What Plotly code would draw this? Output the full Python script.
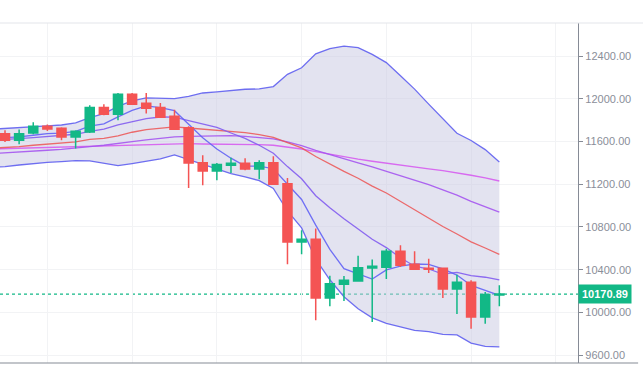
import plotly.graph_objects as go

# ---- candle data (index positions) ----
idx = list(range(36))
opens = [11675, 11613, 11682, 11744, 11725, 11644, 11691, 11919, 11856, 12044,
         11960, 11919, 11838, 11731, 11403, 11325, 11378, 11397, 11344, 11403,
         11206, 10660, 10685, 10135, 10263, 10294, 10416, 10422, 10572, 10450,
         10413, 10413, 10219, 10281, 9956, 10163]
highs = [11706, 11713, 11781, 11760, 11735, 11706, 11941, 11950, 12056, 12056,
         12056, 11963, 11900, 11744, 11472, 11400, 11450, 11444, 11425, 11463,
         11260, 10769, 10785, 10344, 10341, 10531, 10494, 10597, 10628, 10572,
         10503, 10413, 10353, 10300, 10191, 10253]
lows = [11597, 11575, 11669, 11700, 11613, 11535, 11681, 11847, 11800, 11944,
        11863, 11822, 11716, 11166, 11191, 11238, 11306, 11331, 11247, 11200,
        10450, 10544, 9925, 10056, 10106, 10294, 9910, 10313, 10425, 10397,
        10369, 10135, 9985, 9847, 9894, 10057]
closes = [11613, 11675, 11744, 11719, 11644, 11697, 11919, 11856, 12044, 11950,
          11913, 11828, 11716, 11400, 11325, 11385, 11397, 11344, 11403, 11200,
          10660, 10685, 10135, 10269, 10300, 10419, 10431, 10572, 10441, 10403,
          10403, 10219, 10281, 9956, 10166, 10170.89]

# ---- indicator lines (start one step before first candle) ----
line_x = list(range(-1, 36))
bb_upper = [11716, 11722, 11728, 11738, 11747, 11756, 11775, 11825, 11863, 11931,
            11981, 12010, 12010, 12003, 12025, 12056, 12066, 12078, 12091, 12094,
            12116, 12231, 12292, 12423, 12472, 12496, 12482, 12418, 12341, 12217,
            12092, 11952, 11817, 11678, 11611, 11525, 11409]
bb_lower = [11360, 11366, 11381, 11397, 11406, 11413, 11422, 11419, 11400, 11375,
            11394, 11416, 11438, 11475, 11431, 11381, 11338, 11300, 11269, 11235,
            11161, 10950, 10791, 10499, 10305, 10146, 10033, 9948, 9897, 9860,
            9830, 9819, 9794, 9789, 9711, 9681, 9676]
ma20 = [11538, 11544, 11553, 11566, 11578, 11585, 11597, 11622, 11631, 11653,
        11688, 11713, 11725, 11738, 11728, 11719, 11703, 11697, 11685, 11666,
        11639, 11591, 11541, 11461, 11389, 11321, 11257, 11183, 11119, 11039,
        10961, 10886, 10805, 10734, 10661, 10603, 10543]
ma5 = [11630, 11635, 11645, 11660, 11675, 11679, 11696, 11745, 11767, 11832,
       11893, 11936, 11918, 11890, 11761, 11636, 11531, 11445, 11370, 11371,
       11346, 11201, 11058, 10817, 10590, 10410, 10362, 10311, 10398, 10433,
       10453, 10450, 10408, 10349, 10252, 10205, 10159]
ma10 = [11615, 11620, 11628, 11638, 11648, 11660, 11669, 11696, 11717, 11756,
        11786, 11816, 11831, 11829, 11797, 11765, 11734, 11681, 11630, 11566,
        11491, 11366, 11252, 11093, 10980, 10878, 10781, 10685, 10607, 10511,
        10432, 10406, 10359, 10374, 10343, 10329, 10304]
ma30 = [11488, 11494, 11503, 11513, 11519, 11528, 11538, 11553, 11566, 11585,
        11600, 11616, 11631, 11644, 11650, 11653, 11656, 11656, 11650, 11641,
        11625, 11597, 11563, 11519, 11478, 11438, 11400, 11363, 11322, 11281,
        11236, 11196, 11147, 11099, 11040, 10991, 10940]
ma60 = [11531, 11535, 11538, 11541, 11544, 11547, 11550, 11557, 11560, 11566,
        11569, 11575, 11578, 11581, 11581, 11578, 11578, 11575, 11575, 11572,
        11566, 11550, 11531, 11506, 11481, 11456, 11435, 11416, 11397, 11378,
        11359, 11344, 11328, 11310, 11285, 11260, 11231]

y_ticks = [9600, 10000, 10400, 10800, 11200, 11600, 12000, 12400]
x_grid = [3, 9, 15, 21, 27, 33, 39]
last_price = closes[-1]

GREEN = "#12b886"
RED = "#f45454"
AXIS = "#868b96"
X_RANGE = [-0.354, 40.57]
Y_RANGE = [9525, 12712]

fig = go.Figure()

# Bollinger band fill
fig.add_trace(go.Scatter(x=line_x, y=bb_upper, mode="lines",
                         line=dict(color="rgba(95,95,240,0.9)", width=1.3),
                         hoverinfo="skip"))
fig.add_trace(go.Scatter(x=line_x, y=bb_lower, mode="lines", fill="tonexty",
                         fillcolor="rgba(200,200,226,0.5)",
                         line=dict(color="rgba(95,95,240,0.9)", width=1.3),
                         hoverinfo="skip"))
for vals, col in [(ma60, "rgba(214,92,240,0.9)"),
                  (ma30, "rgba(165,85,240,0.9)"),
                  (ma20, "rgba(236,84,84,0.85)"),
                  (ma10, "rgba(130,92,240,0.9)"),
                  (ma5, "rgba(98,98,245,0.9)")]:
    fig.add_trace(go.Scatter(x=line_x, y=vals, mode="lines",
                             line=dict(color=col, width=1.3), hoverinfo="skip"))

# candles on an overlaid subplot so they sit above the band fill
fig.add_trace(go.Candlestick(
    x=idx, open=opens, high=highs, low=lows, close=closes,
    xaxis="x2", yaxis="y2",
    increasing=dict(line=dict(color=GREEN, width=1.5), fillcolor=GREEN),
    decreasing=dict(line=dict(color=RED, width=1.5), fillcolor=RED),
    whiskerwidth=0,
))

fig.add_shape(type="line", xref="paper", yref="y", x0=0, x1=1,
              y0=last_price, y1=last_price, layer="below",
              line=dict(color=GREEN, width=1.3, dash="dot"))
fig.add_shape(type="line", xref="paper", yref="paper", x0=0, x1=1.113,
              y0=1, y1=1, line=dict(color="#e3e5ea", width=1))
fig.add_shape(type="line", xref="paper", yref="paper", x0=0, x1=1.104,
              y0=0, y1=0, line=dict(color=AXIS, width=1.2))

fig.add_annotation(x=1, xref="paper", y=last_price, yref="y",
                   xanchor="left", yanchor="middle", showarrow=False,
                   text="<b>%.2f</b>" % last_price,
                   font=dict(color="white", size=11, family="Arial"),
                   bgcolor=GREEN, borderpad=3)

fig.update_layout(
    width=643, height=366,
    margin=dict(l=0, r=65, t=23, b=3, pad=0),
    paper_bgcolor="white", plot_bgcolor="white",
    showlegend=False,
    boxgap=0.36, boxgroupgap=0,
    xaxis=dict(range=X_RANGE, tickvals=x_grid, showticklabels=False,
               showgrid=True, gridcolor="#f2f3f5", gridwidth=1, zeroline=False,
               showline=False, ticks="", rangeslider=dict(visible=False),
               fixedrange=True),
    yaxis=dict(side="right", range=Y_RANGE, tickvals=y_ticks,
               ticktext=["%.2f" % v for v in y_ticks],
               showgrid=True, gridcolor="#f2f3f5", gridwidth=1, zeroline=False,
               showline=True, linecolor=AXIS, linewidth=1.2,
               ticks="outside", ticklen=4, tickcolor=AXIS,
               tickfont=dict(size=11, color="#8a8e99", family="Arial"),
               fixedrange=True),
    xaxis2=dict(overlaying="x", range=X_RANGE, visible=False,
                rangeslider=dict(visible=False), fixedrange=True),
    yaxis2=dict(overlaying="y", side="right", range=Y_RANGE, visible=False,
                fixedrange=True),
)

fig.write_html("out.html")
